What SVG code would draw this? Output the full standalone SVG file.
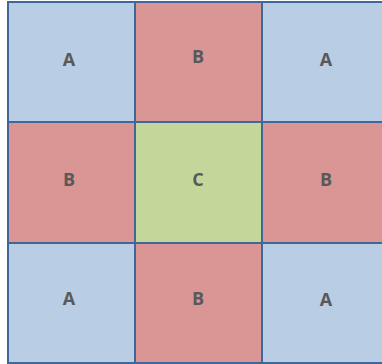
<svg xmlns="http://www.w3.org/2000/svg" width="382" height="364" viewBox="0 0 382 364">
<style>
rect{stroke:#41679A;stroke-width:2}
.a{fill:#B9CDE5}.b{fill:#DA9694}.c{fill:#C4D79B}
text{font-family:"Open Sans","Liberation Sans",sans-serif;font-weight:bold;font-size:18px;fill:#595959;text-anchor:middle}
</style>
<rect width="382" height="364" fill="#fff" style="stroke:none"/>
<g id="r1c1"><rect class="a" x="8" y="2" width="127" height="120"/><text x="69" y="66">A</text></g>
<g id="r1c2"><rect class="b" x="135" y="2" width="127" height="120"/><text x="198" y="63">B</text></g>
<g id="r1c3"><rect class="a" x="262" y="2" width="127" height="120"/><text x="326" y="66">A</text></g>
<g id="r2c1"><rect class="b" x="8" y="122" width="127" height="121"/><text x="69" y="186">B</text></g>
<g id="r2c2"><rect class="c" x="135" y="122" width="127" height="121"/><text x="198" y="186">C</text></g>
<g id="r2c3"><rect class="b" x="262" y="122" width="127" height="121"/><text x="326" y="186">B</text></g>
<g id="r3c1"><rect class="a" x="8" y="243" width="127" height="120"/><text x="69" y="305">A</text></g>
<g id="r3c2"><rect class="b" x="135" y="243" width="127" height="120"/><text x="198" y="305">B</text></g>
<g id="r3c3"><rect class="a" x="262" y="243" width="127" height="120"/><text x="326" y="306">A</text></g>
<g id="connectors"></g>
</svg>
